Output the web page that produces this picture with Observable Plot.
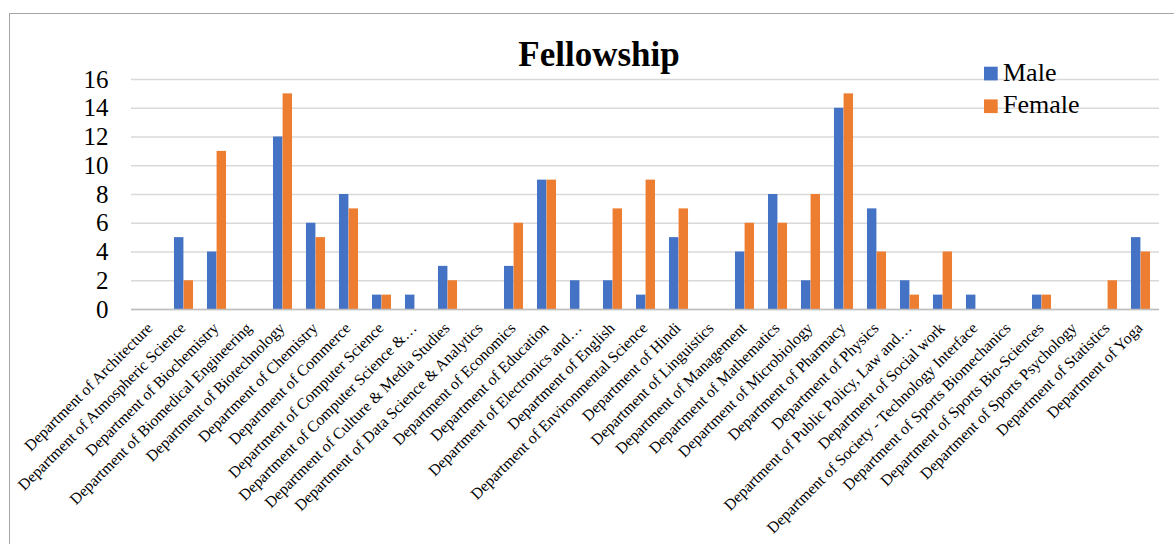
<!DOCTYPE html>
<html>
<head>
<meta charset="utf-8">
<script src="https://cdn.jsdelivr.net/npm/d3@7"></script>
<script src="https://cdn.jsdelivr.net/npm/@observablehq/plot@0.6"></script>
<style>
  html, body { margin: 0; padding: 0; background: #fff; }
  #wrap { position: relative; width: 1174px; height: 544px; overflow: hidden; background: #fff; }
  #border { position: absolute; left: 9px; top: 13px; width: 1300px; height: 700px; border: 1px solid #a6a6a6; box-sizing: border-box; }
  #chart { position: absolute; left: 0; top: 0; }
  #chart svg text { font-family: 'Liberation Serif', 'Times New Roman', serif; }
</style>
</head>
<body>
<div id="wrap">
  <div id="border"></div>
  <div id="chart"></div>
</div>
<script>
const departments = [
  "Department of Architecture",
  "Department of Atmospheric Science",
  "Department of Biochemistry",
  "Department of Biomedical Engineering",
  "Department of Biotechnology",
  "Department of Chemistry",
  "Department of Commerce",
  "Department of Computer Science",
  "Department of Computer Science &…",
  "Department of Culture & Media Studies",
  "Department of Data Science & Analytics",
  "Department of Economics",
  "Department of Education",
  "Department of Electronics and…",
  "Department of English",
  "Department of Environmental Science",
  "Department of Hindi",
  "Department of Linguistics",
  "Department of Management",
  "Department of Mathematics",
  "Department of Microbiology",
  "Department of Pharmacy",
  "Department of Physics",
  "Department of Public Policy, Law and…",
  "Department of Social work",
  "Department of Society - Technology Interface",
  "Department of Sports Biomechanics",
  "Department of Sports Bio-Sciences",
  "Department of Sports Psychology",
  "Department of Statistics",
  "Department of Yoga"
];
const male   = [0,5,4,0,12,6,8,1,1,3,0,3,9,2,2,1,5,0,4,8,2,14,7,2,1,1,0,1,0,0,5];
const female = [0,2,11,0,15,5,7,1,0,2,0,6,9,0,7,9,7,0,6,6,8,15,4,1,4,0,0,1,0,2,4];
const yTicks = [0,2,4,6,8,10,12,14,16];
const seriesNames = ["Male", "Female"];
const seriesColors = ["#4472C4", "#ED7D31"];
const title = "Fellowship";

const rows = departments.map((d, i) => ({dept: d, male: male[i], female: female[i]}));

const bw = 33.17;   // band width approx
const barW = 9.6;
const half = bw / 2;
const serif = "'Liberation Serif', 'Times New Roman', serif";

const chart = Plot.plot({
  width: 1174,
  height: 544,
  marginLeft: 131,
  marginRight: 15,
  marginTop: 79,
  marginBottom: 235,
  style: {fontFamily: serif, color: "#000", background: "transparent"},
  x: {domain: departments, padding: 0, axis: null},
  y: {domain: [0, 16], axis: null},
  marks: [
    Plot.gridY(yTicks, {stroke: "#d9d9d9", strokeOpacity: 1, strokeWidth: 1.3}),
    Plot.barY(rows, {x: "dept", y: "male", fill: seriesColors[0], insetLeft: half - barW, insetRight: half}),
    Plot.barY(rows, {x: "dept", y: "female", fill: seriesColors[1], insetLeft: half, insetRight: half - barW}),
    Plot.ruleY([0], {stroke: "#bfbfbf", strokeWidth: 1.5}),
    Plot.axisY(yTicks, {tickSize: 0, tickPadding: 23, fontSize: 25, label: null, fill: "#000"}),
    Plot.axisX({tickRotate: -45, tickSize: 0, tickPadding: 16, dx: -1, fontSize: 15.8, label: null, fill: "#000"})
  ]
});

const svg = d3.select(chart);
svg.append("text")
  .attr("x", 599).attr("y", 66)
  .attr("text-anchor", "middle")
  .style("font-family", serif)
  .style("font-weight", "bold")
  .style("font-size", "35px")
  .attr("fill", "#000")
  .text(title);

const leg = svg.append("g");
seriesNames.forEach((name, i) => {
  const y0 = 66.7 + i * 32.7;
  leg.append("rect").attr("x", 984).attr("y", y0).attr("width", 13.7).attr("height", 13.7).attr("fill", seriesColors[i]);
  leg.append("text").attr("x", 1003).attr("y", y0 + 14)
    .attr("text-anchor", "start")
    .style("font-family", serif)
    .style("font-size", "26px").attr("fill", "#000").text(name);
});

document.getElementById("chart").appendChild(chart);
</script>
</body>
</html>
